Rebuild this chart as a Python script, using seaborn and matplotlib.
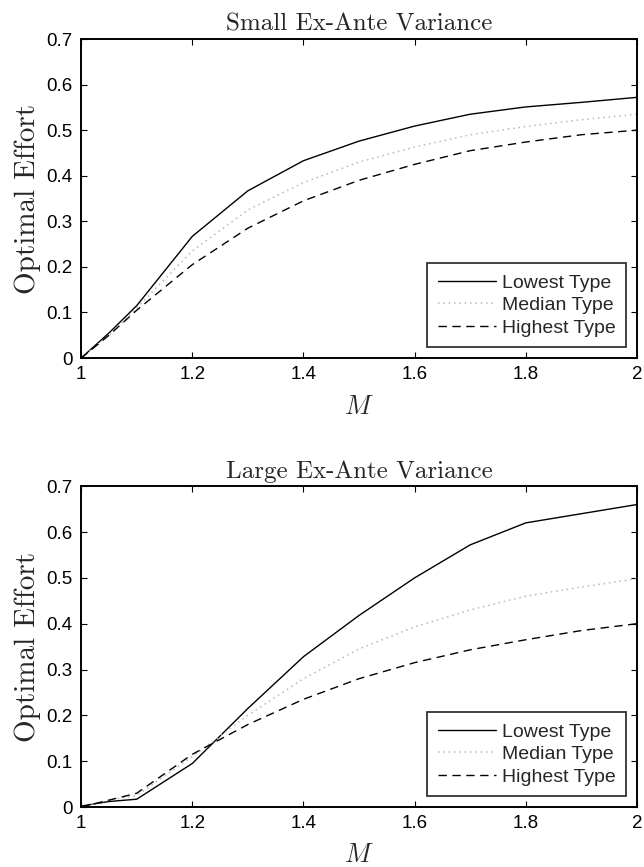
import numpy as np
import pandas as pd
import matplotlib
matplotlib.use("Agg")
import matplotlib.pyplot as plt
import seaborn as sns

# Grid of M values
m_values = [1.0, 1.05, 1.1, 1.2, 1.3, 1.4, 1.5, 1.6, 1.7, 1.8, 1.9, 2.0]

# Small ex-ante variance
small_lowest = [0.0, 0.055, 0.115, 0.267, 0.367, 0.433, 0.476, 0.509, 0.535, 0.551, 0.561, 0.572]
small_median = [0.0, 0.050, 0.110, 0.235, 0.325, 0.385, 0.430, 0.463, 0.490, 0.508, 0.523, 0.535]
small_highest = [0.0, 0.050, 0.105, 0.205, 0.285, 0.345, 0.390, 0.425, 0.455, 0.474, 0.490, 0.500]

# Large ex-ante variance
large_lowest = [0.002, 0.012, 0.017, 0.095, 0.215, 0.328, 0.418, 0.500, 0.572, 0.620, 0.640, 0.660]
large_median = [0.0, 0.015, 0.025, 0.110, 0.200, 0.280, 0.345, 0.393, 0.430, 0.460, 0.480, 0.498]
large_highest = [0.0, 0.015, 0.030, 0.115, 0.180, 0.235, 0.280, 0.315, 0.343, 0.365, 0.385, 0.400]

series_names = ["Lowest Type", "Median Type", "Highest Type"]
panel_titles = ["Small Ex-Ante Variance", "Large Ex-Ante Variance"]
x_ticks = [1, 1.2, 1.4, 1.6, 1.8, 2]
x_tick_labels = ["1", "1.2", "1.4", "1.6", "1.8", "2"]
y_ticks = [0, 0.1, 0.2, 0.3, 0.4, 0.5, 0.6, 0.7]
y_tick_labels = ["0", "0.1", "0.2", "0.3", "0.4", "0.5", "0.6", "0.7"]

sns.set_theme(style="white")
plt.rcParams["font.family"] = ["Liberation Sans", "DejaVu Sans"]
plt.rcParams["mathtext.fontset"] = "cm"

styles = {
    "Lowest Type": dict(color="black", linestyle="-", linewidth=1.0),
    "Median Type": dict(color="#b8b8b8", linestyle=(0, (1, 2.5)), linewidth=1.1),
    "Highest Type": dict(color="black", linestyle=(0, (6, 4)), linewidth=1.0),
}

fig = plt.figure(figsize=(6.44, 8.67), dpi=100)
ax_top = fig.add_axes([0.126, 0.587, 0.863, 0.368])
ax_bot = fig.add_axes([0.126, 0.0692, 0.863, 0.370])

panels = [
    (ax_top, [small_lowest, small_median, small_highest]),
    (ax_bot, [large_lowest, large_median, large_highest]),
]

for (ax, ys), title in zip(panels, panel_titles):
    for name, y in zip(series_names, ys):
        df = pd.DataFrame({"M": m_values, "effort": y})
        sns.lineplot(data=df, x="M", y="effort", ax=ax, label=name,
                     **styles[name])
    ax.set_xlim(1, 2)
    ax.set_ylim(0, 0.7)
    ax.set_xticks(x_ticks)
    ax.set_xticklabels(x_tick_labels)
    ax.set_yticks(y_ticks)
    ax.set_yticklabels(y_tick_labels)
    ax.tick_params(direction="in", length=4, width=0.8, top=True, right=True,
                   bottom=True, left=True, labelsize=13.5, colors="black", pad=6)
    for spine in ax.spines.values():
        spine.set_color("black")
        spine.set_linewidth(1.4)
    ax.set_title(title, family="cmr10", fontsize=18, pad=6)
    ax.set_xlabel(r"$M$", fontsize=19, labelpad=8)
    ax.set_ylabel("Optimal Effort", family="cmr10", fontsize=21, labelpad=4)
    leg = ax.legend(loc="lower right", fontsize=14, handlelength=3.0,
                    handletextpad=0.28, borderaxespad=0.55, borderpad=0.55,
                    labelspacing=0.25, fancybox=False, frameon=True,
                    edgecolor="black")
    leg.get_frame().set_linewidth(1.3)

fig.savefig("out.png", dpi=100, facecolor="white")
